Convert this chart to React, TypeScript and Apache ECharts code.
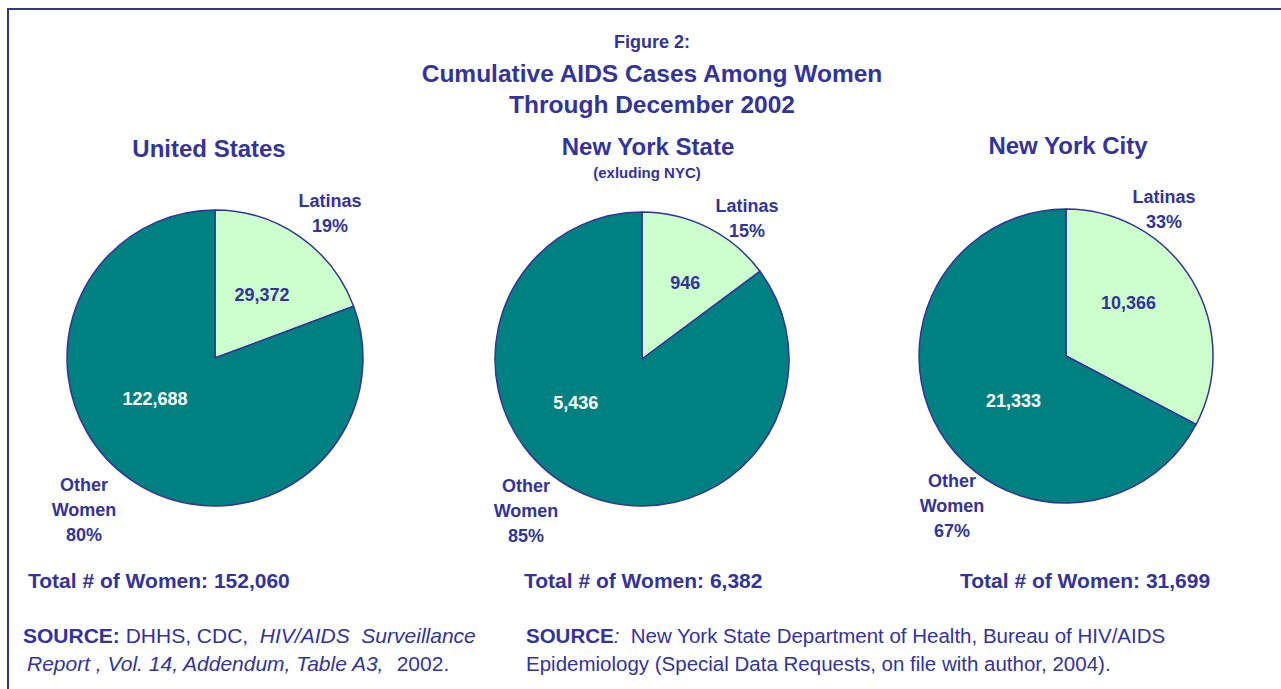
import React, { useEffect, useRef } from "react";
import * as echarts from "echarts";

// ---- data ----
const regions = ["United States", "New York State", "New York City"];
const subtitles = ["", "(exluding NYC)", ""];
const categories = ["Latinas", "Other Women"];
const latinaCases = [29372, 946, 10366];
const otherCases = [122688, 5436, 21333];
const latinaPct = [19, 15, 33];
const otherPct = [80, 85, 67];
const totals = [152060, 6382, 31699];

const figureLabel = "Figure 2:";
const titleLines = ["Cumulative AIDS Cases Among Women", "Through December 2002"];

// ---- layout / style ----
const NAVY = "#333399";
const TEAL = "#008080";
const MINT = "#CCFFCC";
const FONT = "'Liberation Sans', Arial, sans-serif";

const layout = [
  { cx: 215, cy: 358, r: 148, titleX: 209, titleY: 148, latX: 330, latY: 213, othX: 84, othY: 510, totalX: 28, off: [[3, 0], [-16, -22]] },
  { cx: 642, cy: 359, r: 147, titleX: 648, titleY: 146, latX: 747, latY: 218, othX: 526, othY: 511, totalX: 524, off: [[9, -8], [-32, -24]] },
  { cx: 1066, cy: 356, r: 147, titleX: 1068, titleY: 145, latX: 1164, latY: 209, othX: 952, othY: 506, totalX: 960, off: [[-3, -13], [13, 5]] },
];

const fmt = (n: number) => n.toLocaleString("en-US");

export default function App() {
  const ref = useRef<HTMLDivElement>(null);
  useEffect(() => {
    if (!ref.current) return;
    const chart = echarts.init(ref.current, null, { renderer: "svg" });

    const series: any[] = regions.map((_, i) => {
      const L = layout[i];
      return {
        type: "pie",
        center: [L.cx, L.cy],
        radius: [0, L.r],
        startAngle: 90,
        clockwise: true,
        silent: true,
        label: {
          show: true,
          position: "inside",
          fontFamily: FONT,
          fontWeight: "bold",
          fontSize: 18,
          formatter: (p: any) => fmt(p.value),
        },
        labelLine: { show: false },
        labelLayout: (p: any) => ({ dx: L.off[p.dataIndex][0], dy: L.off[p.dataIndex][1] }),
        itemStyle: { borderColor: NAVY, borderWidth: 1.5 },
        data: [
          { name: categories[0], value: latinaCases[i], itemStyle: { color: MINT }, label: { color: NAVY } },
          { name: categories[1], value: otherCases[i], itemStyle: { color: TEAL }, label: { color: "#ffffff" } },
        ],
      };
    });

    const txt = (x: number, y: number, text: string, size: number, extra: any = {}) => ({
      type: "text",
      x,
      y,
      silent: true,
      style: {
        text,
        fill: NAVY,
        font: `bold ${size}px ${FONT}`,
        textAlign: "center",
        textVerticalAlign: "middle",
        ...extra,
      },
    });

    const graphics: any[] = [
      {
        type: "rect",
        silent: true,
        shape: { x: 8, y: 9, width: 1300, height: 720 },
        style: { fill: "none", stroke: NAVY, lineWidth: 2 },
      },
      txt(652, 42, figureLabel, 18),
      txt(652, 73, titleLines[0], 24.5),
      txt(652, 104, titleLines[1], 24.5),
    ];

    regions.forEach((name, i) => {
      const L = layout[i];
      graphics.push(txt(L.titleX, L.titleY, name, 24));
      if (subtitles[i]) graphics.push(txt(L.titleX - 1, 172, subtitles[i], 15));
      graphics.push(
        txt(L.latX, L.latY, `${categories[0]}\n${latinaPct[i]}%`, 18, { lineHeight: 25 })
      );
      graphics.push(
        txt(L.othX, L.othY, `Other\nWomen\n${otherPct[i]}%`, 18, { lineHeight: 25 })
      );
      graphics.push(
        txt(L.totalX, 580, `Total # of Women: ${fmt(totals[i])}`, 21, { textAlign: "left" })
      );
    });

    const mk = (s: number) => ({
      b: { font: `bold ${s}px ${FONT}`, fill: NAVY },
      i: { font: `italic ${s}px ${FONT}`, fill: NAVY },
      n: { font: `${s}px ${FONT}`, fill: NAVY },
    });
    const src = (x: number, y: number, text: string, s: number) => ({
      type: "text",
      x,
      y,
      silent: true,
      style: { text, rich: mk(s), fill: NAVY, font: `${s}px ${FONT}`, textAlign: "left", textVerticalAlign: "middle" },
    });
    graphics.push(src(23, 635, "{b|SOURCE:}{n| DHHS, CDC,  }{i|HIV/AIDS  Surveillance}", 21));
    graphics.push(src(27, 663, "{i|Report , Vol. 14, Addendum, Table A3,}{n|  2002.}", 21));
    graphics.push(src(526, 635, "{b|SOURCE}{i|:}{n|  New York State Department of Health, Bureau of HIV/AIDS}", 20.5));
    graphics.push(src(526, 663, "{n|Epidemiology (Special Data Requests, on file with author, 2004).}", 20.5));

    chart.setOption({
      animation: false,
      backgroundColor: "#ffffff",
      series,
      graphic: graphics,
    });
    return () => chart.dispose();
  }, []);
  return (
    <div
      ref={ref}
      style={{ position: "fixed", left: 0, top: 0, width: 1281, height: 689 }}
    />
  );
}
